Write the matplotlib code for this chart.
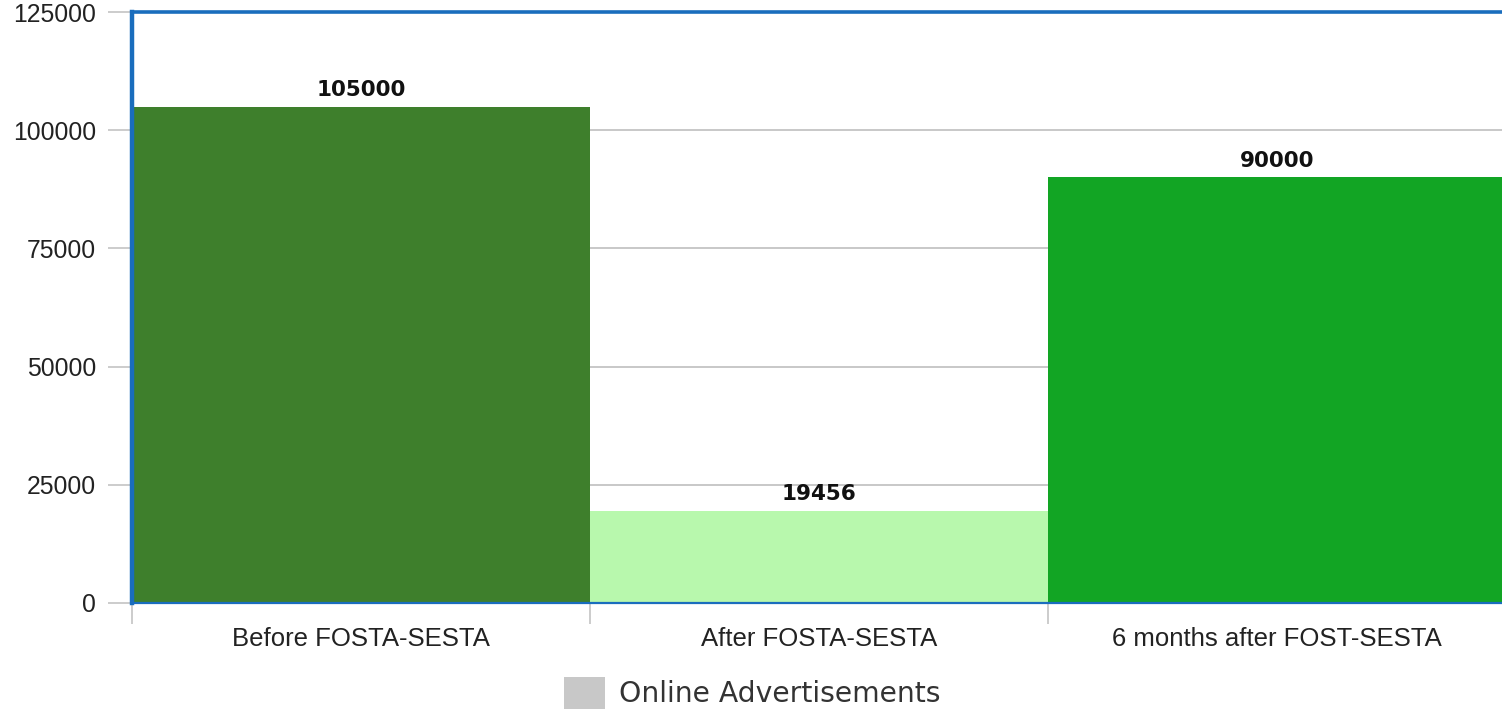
"""
Online advertisements before / after FOSTA-SESTA
"""
import matplotlib
matplotlib.use("Agg")
import matplotlib.pyplot as plt
from matplotlib.patches import Patch

# data
categories = ["Before FOSTA-SESTA", "After FOSTA-SESTA", "6 months after FOST-SESTA"]
ads = [105000, 19456, 90000]
bar_colors = ["#3e7f2c", "#b8f8ad", "#12a524"]
y_ticks = [0, 25000, 50000, 75000, 100000, 125000]

W, H = 1502, 709
fig = plt.figure(figsize=(W / 100, H / 100), dpi=100)
ax = fig.add_axes([132 / W, 1 - 603 / H, (1506 - 132) / W, (603 - 12) / H])

x = range(len(categories))
ax.bar(x, ads, width=1.0, color=bar_colors, zorder=2)
ax.set_xlim(-0.5, 2.5)
ax.set_ylim(0, 125000)

# value labels
for i, v in enumerate(ads):
    ax.annotate(f"{v}", (i, v), xytext=(0, 5), textcoords="offset points",
                ha="center", va="bottom", fontsize=15.5, fontweight="bold",
                family="DejaVu Sans", color="#111111")

# grid + ticks
ax.set_yticks(y_ticks)
ax.set_yticklabels([str(t) for t in y_ticks], family="Liberation Sans", fontsize=17.8, color="#222222")
ax.yaxis.grid(True, color="#c4c4c4", linewidth=1.3, zorder=0)
ax.tick_params(axis="y", length=17, width=1.2, color="#c4c4c4", pad=9)

ax.set_xticks([-0.5, 0.5, 1.5, 2.5])
ax.set_xticklabels([])
ax.set_xticks([0, 1, 2], minor=True)
ax.set_xticklabels(categories, minor=True, family="Liberation Sans", fontsize=18.5, color="#222222")
ax.tick_params(axis="x", which="major", length=15, width=1.2, color="#c4c4c4")
ax.tick_params(axis="x", which="minor", length=0, pad=17)

blue = "#1a6dbd"
ax.spines["left"].set_color(blue)
ax.spines["left"].set_linewidth(3.2)
ax.spines["top"].set_color(blue)
ax.spines["top"].set_linewidth(2.6)
ax.spines["bottom"].set_color(blue)
ax.spines["bottom"].set_linewidth(1.6)
ax.spines["right"].set_visible(False)

# legend
handle = Patch(facecolor="#c8c8c8", edgecolor="none", label="Online Advertisements")
fig.legend(handles=[handle], loc="center", bbox_to_anchor=(752 / W, 1 - 693 / H),
           frameon=False, prop={"family": "DejaVu Sans", "size": 20.3},
           handlelength=1.45, handleheight=1.4, handletextpad=0.5, labelcolor="#333333",
           borderpad=0.1)

fig.savefig("out.png", dpi=100)
plt.close(fig)
